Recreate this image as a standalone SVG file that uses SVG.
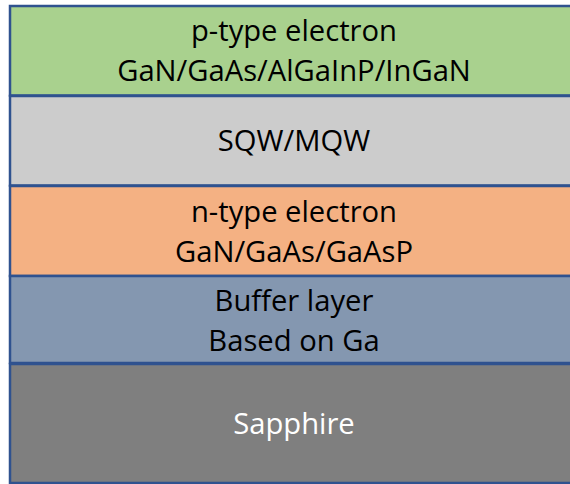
<svg xmlns="http://www.w3.org/2000/svg" width="570" height="484" viewBox="0 0 570 484">
<style>
.l{stroke:#2F528F;stroke-width:2.5}
.t{font-family:"Open Sans","Liberation Sans",sans-serif;font-size:29.2px;text-anchor:middle;fill:#000}
.w{fill:#fff}
</style>
<rect width="570" height="484" fill="#fff"/>
<g id="p-layer"><rect class="l" x="10" y="6" width="570" height="89.5" fill="#A9D18E"/>
<text class="t" x="294" y="40.5">p-type electron</text>
<text class="t" x="294" y="80.5">GaN/GaAs/AlGaInP/InGaN</text></g>
<g id="qw-layer"><rect class="l" x="10" y="96" width="570" height="89.5" fill="#CCCCCC"/>
<text class="t" x="294" y="151">SQW/MQW</text></g>
<g id="n-layer"><rect class="l" x="10" y="186" width="570" height="90" fill="#F4B183"/>
<text class="t" x="294" y="221.5">n-type electron</text>
<text class="t" x="294" y="261.5">GaN/GaAs/GaAsP</text></g>
<g id="buffer-layer"><rect class="l" x="10" y="276" width="570" height="87" fill="#8497B0"/>
<text class="t" x="294" y="311">Buffer layer</text>
<text class="t" x="294" y="350.5">Based on Ga</text></g>
<g id="sapphire-layer"><rect class="l" x="10" y="364" width="570" height="119" fill="#7F7F7F"/>
<text class="t w" x="294" y="433.5">Sapphire</text></g>
</svg>
